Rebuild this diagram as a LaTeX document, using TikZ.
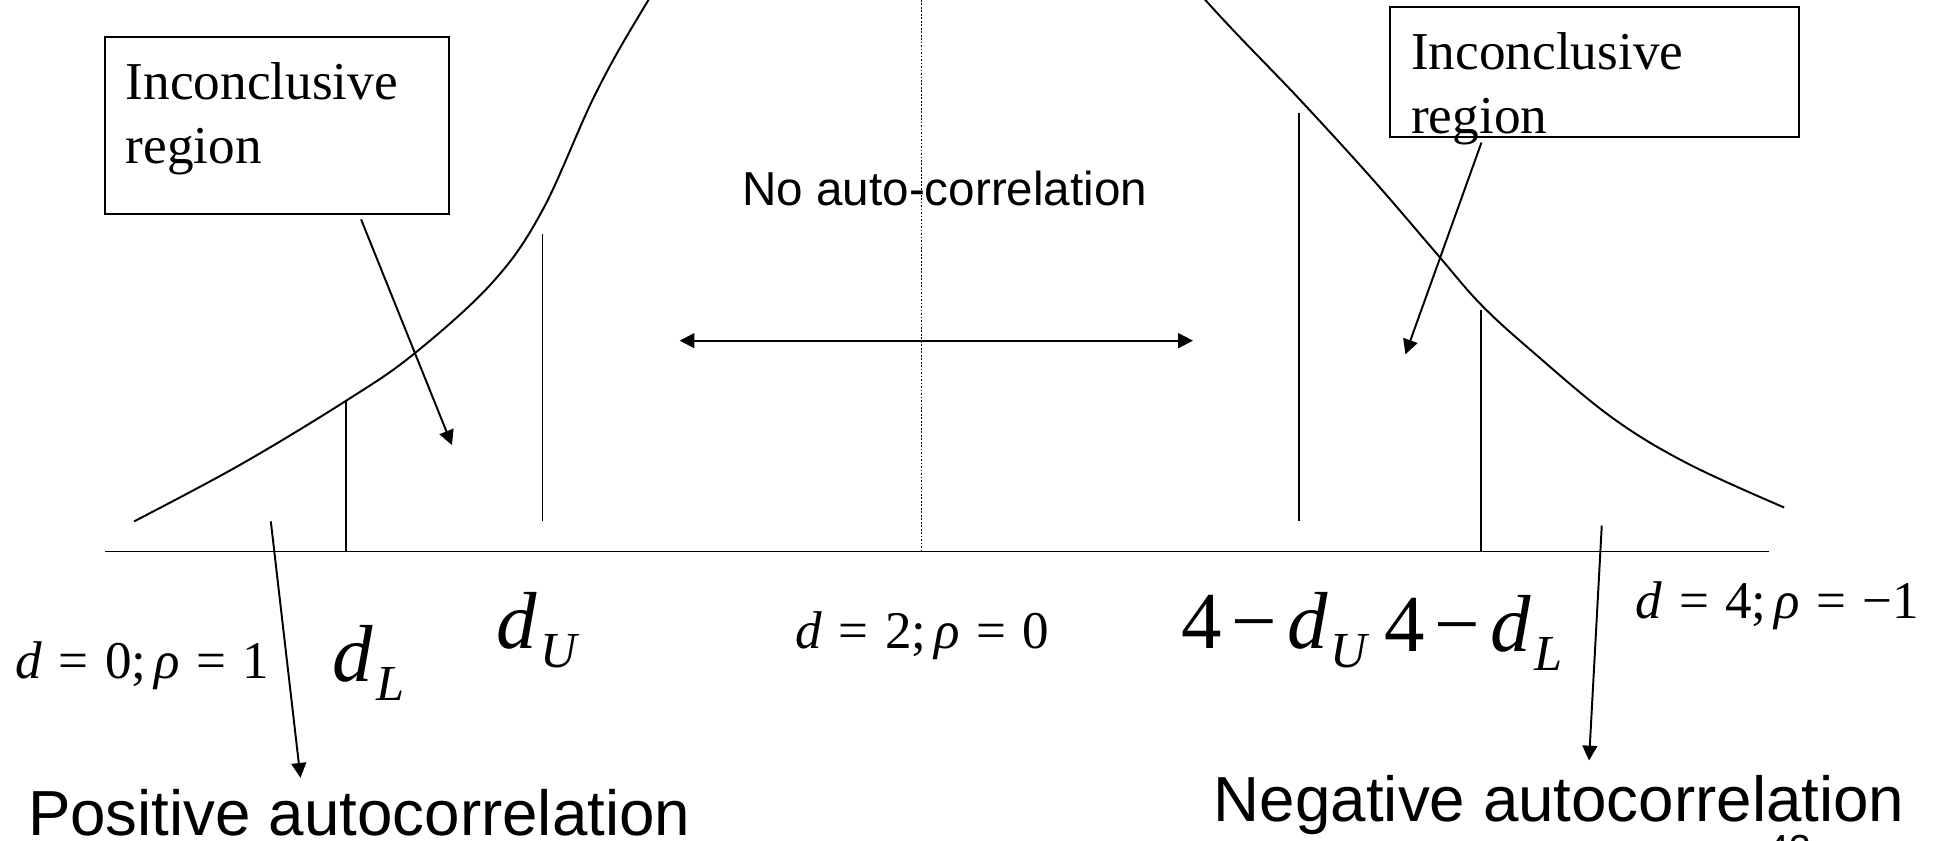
\documentclass[tikz,border=0pt]{standalone}
\usepackage{fontspec}
\setmainfont{Liberation Serif}
\newfontfamily\arialf{Liberation Sans}
\usetikzlibrary{arrows.meta}
\newcommand{\dsub}[1]{\textit{d}\hspace{0.04em}\raisebox{-4.4pt}{\fontsize{11.6pt}{12pt}\selectfont\textit{#1}}}
\newcommand{\eqs}{\hspace{0.31em}}
\newcommand{\msp}{\hspace{0.12em}}
\begin{document}
\begin{tikzpicture}[x=0.01cm,y=-0.01cm,
  ln/.style={line width=0.45pt},
  arr/.style={ln,-{Triangle[length=1.2mm,width=1.2mm]}},
  darr/.style={ln,{Triangle[length=1.2mm,width=1.2mm]}-{Triangle[length=1.2mm,width=1.2mm]}},
  txt/.style={inner sep=0,anchor=base west},
  boxtxt/.style={txt,font=\fontsize{12.25pt}{14pt}\selectfont},
  seq/.style={txt,font=\fontsize{12.2pt}{14pt}\selectfont},
  big/.style={txt,font=\fontsize{18.6pt}{20pt}\selectfont},
  sans/.style={txt,font=\arialf\fontsize{10.95pt}{13pt}\selectfont},
  bigsans/.style={txt,font=\arialf\fontsize{14.65pt}{17pt}\selectfont}]
\useasboundingbox (0,0) rectangle (1568,680);
\clip (0,0) rectangle (1568,680);

% boxes
\draw[ln] (85,30) rectangle (363,173);
\node[boxtxt] (iL1) at (101,80.6) {Inconclusive};
\node[boxtxt] (iL2) at (101,132.6) {region};
\draw[ln] (1124,6) rectangle (1455,111);
\node[boxtxt] (iR1) at (1140.5,56.3) {Inconclusive};
\node[boxtxt] (iR2) at (1140.5,108) {region};

% axis and dotted centre
\coordinate (axL) at (85,446);
\coordinate (axR) at (1430.7,446);
\draw[ln] (axL) -- (axR);
\coordinate (cTop) at (745,0);
\coordinate (cBot) at (745,446);
\draw[line width=0.35pt,dash pattern=on 0.4pt off 0.4pt] (cTop) -- (cBot);

% curve
\draw[ln] plot[smooth,tension=0.6] coordinates {(108.5,421.6) (194,376) (280,324) (335,286) (398.6,228) (438.7,170) (482,75) (524.4,0) (600,-120) (745,-190) (880,-110) (974.7,0) (1050.6,80) (1110,145) (1160,203) (1197.3,246) (1240,285) (1304,338) (1365,375) (1442.8,410.4)};

% critical value lines
\coordinate (dLt) at (280,324);   \coordinate (dLb) at (280,446);
\coordinate (dUt) at (438.7,189); \coordinate (dUb) at (438.7,421.6);
\coordinate (rUt) at (1050.6,91.6); \coordinate (rUb) at (1050.6,421.6);
\coordinate (rLt) at (1197.3,250.7); \coordinate (rLb) at (1197.3,446);
\draw[ln] (dLt) -- (dLb);
\draw[ln] (dUt) -- (dUb);
\draw[ln] (rUt) -- (rUb);
\draw[ln] (rLt) -- (rLb);

% arrows
\coordinate (aL1) at (292,177.4);   \coordinate (aL2) at (365.5,360);
\coordinate (aR1) at (1198,115.3);  \coordinate (aR2) at (1136.5,286.6);
\coordinate (pA1) at (219,421.6);   \coordinate (pA2) at (243,629);
\coordinate (nA1) at (1295.3,425);  \coordinate (nA2) at (1285,615);
\coordinate (dA1) at (549.6,275.5); \coordinate (dA2) at (964.7,275.5);
\draw[arr] (aL1) -- (aL2);
\draw[arr] (aR1) -- (aR2);
\draw[arr] (pA1) -- (pA2);
\draw[arr] (nA1) -- (nA2);
\draw[darr] (dA1) -- (dA2);

% labels
\node[sans] (noac) at (599.6,165.8) {No auto-correlation};
\node[seq] (d0) at (12,548.5) {\textit{d}\eqs=\eqs0;\hspace{0.15em}\textit{ρ}\eqs=\eqs1};
\node[seq] (d2) at (642.9,524.3) {\textit{d}\eqs=\eqs2;\hspace{0.15em}\textit{ρ}\eqs=\eqs0};
\node[seq] (d4) at (1322.2,500) {\textit{d}\eqs=\eqs4;\hspace{0.15em}\textit{ρ}\eqs=\eqs−1};
\node[big] (dL) at (268.5,551.3) {\dsub{L}};
\node[big] (dU) at (401,524.3) {\dsub{U}};
\node[big] (mdU) at (954.8,524.3) {4\msp−\msp\dsub{U}};
\node[big] (mdL) at (1119.2,527) {4\msp−\msp\dsub{L}};
\node[bigsans] (pos) at (22,675.5) {Positive autocorrelation};
\node[bigsans] (neg) at (981,664.5) {Negative autocorrelation};
\node[inner sep=0,anchor=north west,font=\arialf\fontsize{9pt}{10pt}\selectfont] (pg) at (1428.6,675) {43};
\end{tikzpicture}
\end{document}
